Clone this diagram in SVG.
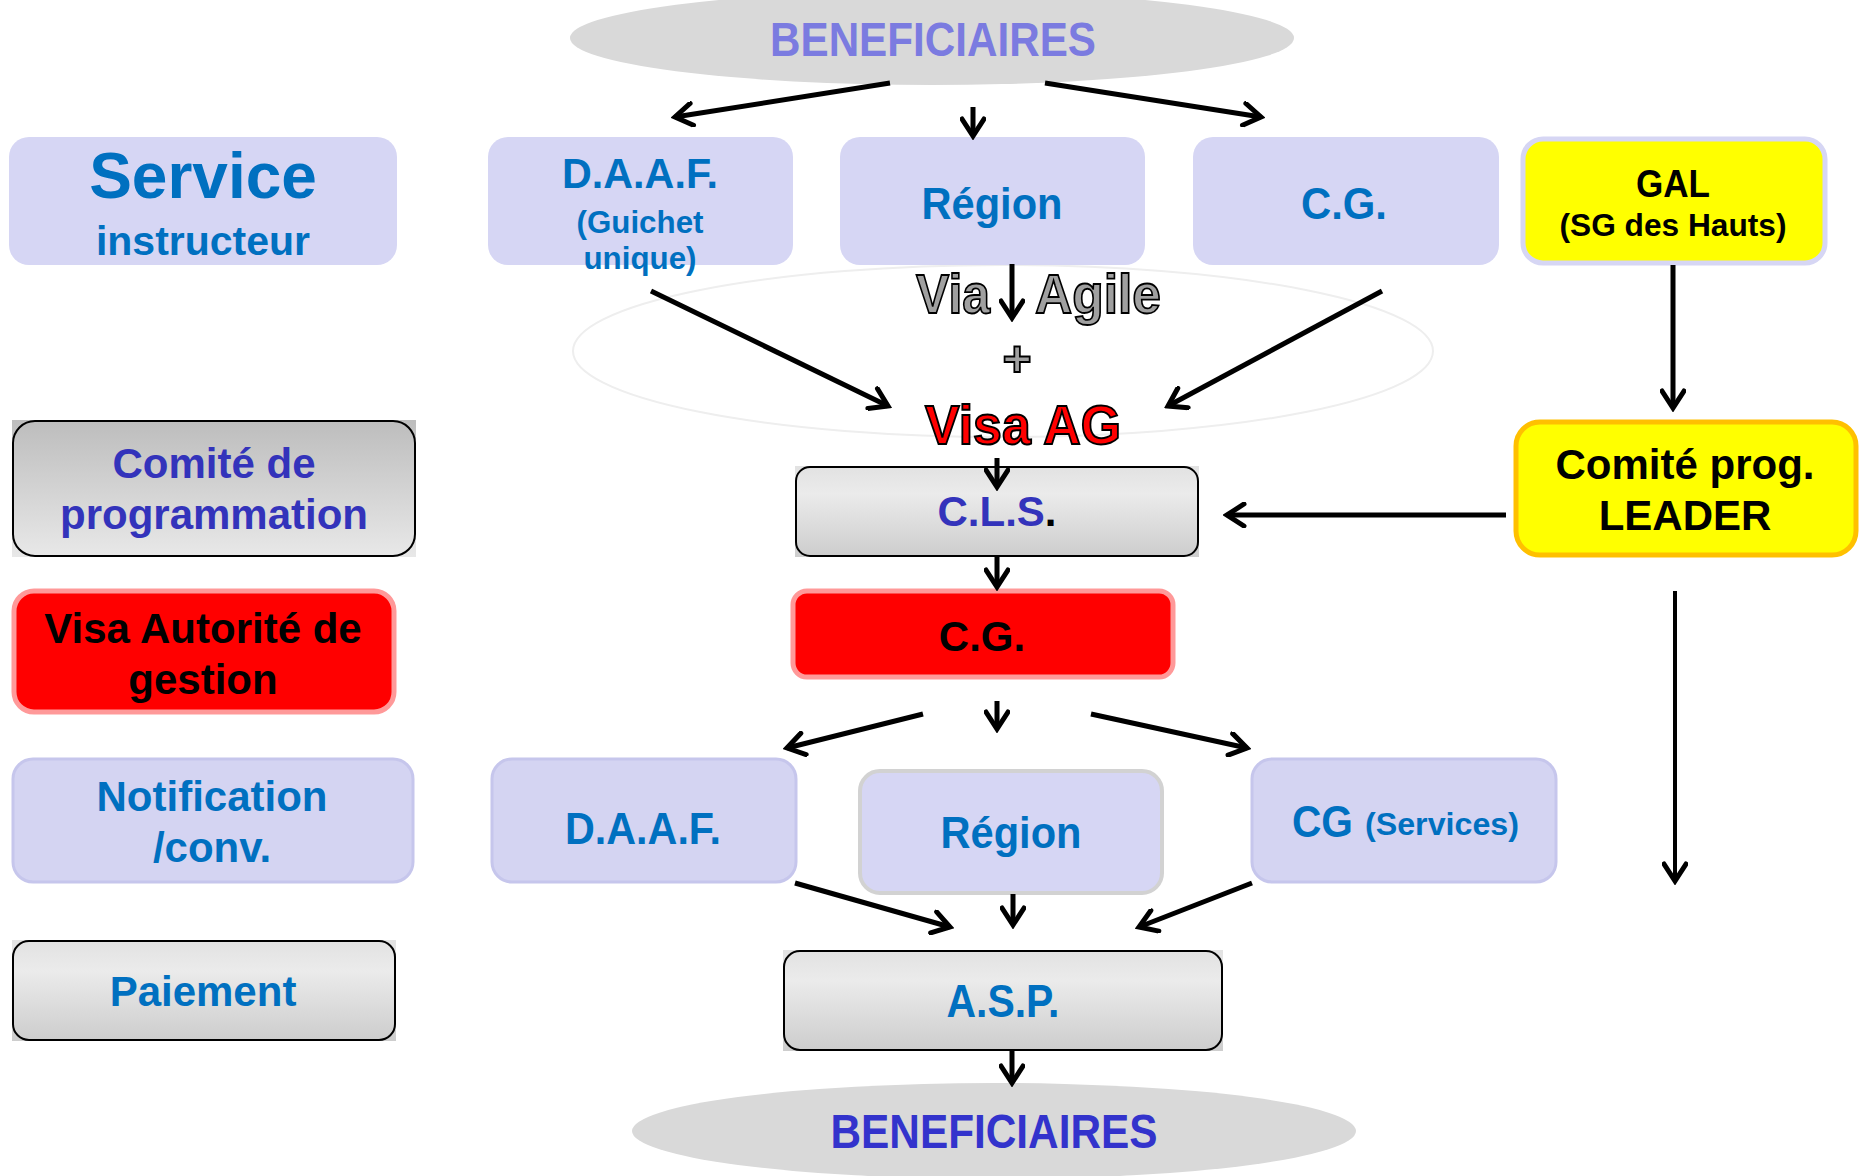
<svg xmlns="http://www.w3.org/2000/svg" width="1865" height="1176" viewBox="0 0 1865 1176">
<defs>
<style>
.t{font-family:"Liberation Sans",Arial,sans-serif;font-weight:bold;text-anchor:middle}
.n{font-family:"Liberation Sans Narrow","Liberation Sans",Arial,sans-serif;font-weight:bold;text-anchor:middle}
.blue{fill:#0070C0}
.purple{fill:#3333BB}
.lav{fill:#D6D6F4}
.lavb{fill:#D4D4F2;stroke:#C6C6EC;stroke-width:3}
.ln{fill:none;stroke:#000;stroke-width:5;marker-end:url(#arr)}
.ln2{fill:none;stroke:#000;stroke-width:4;marker-end:url(#arr)}
.gb{stroke:#000;stroke-width:2}
</style>
<marker id="arr" viewBox="0 0 26 26" refX="22" refY="13" markerWidth="26" markerHeight="26" orient="auto" markerUnits="userSpaceOnUse">
<path d="M5,2 L22,13 L5,24" fill="none" stroke="#000" stroke-width="5" stroke-linecap="round" stroke-linejoin="miter"/>
</marker>
<linearGradient id="gA" x1="0" y1="0" x2="0" y2="1"><stop offset="0" stop-color="#BDBDBD"/><stop offset="1" stop-color="#E8E8E8"/></linearGradient>
<linearGradient id="gB" x1="0" y1="0" x2="0" y2="1"><stop offset="0" stop-color="#E2E2E2"/><stop offset="0.3" stop-color="#EBEBEB"/><stop offset="1" stop-color="#CDCDCD"/></linearGradient>
</defs>
<rect width="1865" height="1176" fill="#fff"/>

<!-- faint ellipse -->
<ellipse cx="1003" cy="351" rx="430" ry="86" fill="none" stroke="#EEEEEE" stroke-width="2"/>

<g id="benef-top">
<ellipse cx="932" cy="38" rx="362" ry="47" fill="#D9D9D9"/>
<text class="n" x="933" y="56" font-size="48" textLength="326" lengthAdjust="spacingAndGlyphs" fill="#7B7BE0">BENEFICIAIRES</text>
</g>

<g id="service-instructeur">
<rect x="9" y="137" width="388" height="128" rx="20" class="lav"/>
<text class="t blue" x="203" y="198" font-size="64">Service</text>
<text class="t blue" x="203" y="255" font-size="41">instructeur</text>
</g>

<g id="daaf1">
<rect x="488" y="137" width="305" height="128" rx="20" class="lav"/>
<text class="n blue" x="640" y="188" font-size="43" textLength="156" lengthAdjust="spacingAndGlyphs">D.A.A.F.</text>
<text class="n blue" x="640" y="233" font-size="31" textLength="127" lengthAdjust="spacingAndGlyphs">(Guichet</text>
<text class="n blue" x="640" y="269" font-size="31" textLength="113" lengthAdjust="spacingAndGlyphs">unique)</text>
</g>

<g id="region1">
<rect x="840" y="137" width="305" height="128" rx="20" class="lav"/>
<text class="n blue" x="992" y="219" font-size="44" textLength="141" lengthAdjust="spacingAndGlyphs">Région</text>
</g>

<g id="cg1">
<rect x="1193" y="137" width="306" height="128" rx="20" class="lav"/>
<text class="n blue" x="1344" y="219" font-size="44" textLength="86" lengthAdjust="spacingAndGlyphs">C.G.</text>
</g>

<g id="gal">
<rect x="1523" y="139" width="302" height="124" rx="20" fill="#FFFF00" stroke="#D6D6F4" stroke-width="5"/>
<text class="n" x="1673" y="197" font-size="38" textLength="74" lengthAdjust="spacingAndGlyphs" fill="#000">GAL</text>
<text class="n" x="1673" y="236" font-size="32" textLength="227" lengthAdjust="spacingAndGlyphs" fill="#000">(SG des Hauts)</text>
</g>

<g id="via-agile">
<text class="n" x="953" y="313" font-size="56" textLength="74" lengthAdjust="spacingAndGlyphs" fill="#A0A0A0" stroke="#000" stroke-width="1.8">Via</text>
<text class="n" x="1098" y="313" font-size="56" textLength="126" lengthAdjust="spacingAndGlyphs" fill="#A0A0A0" stroke="#000" stroke-width="1.8">Agile</text>
<text class="t" x="1017" y="376" font-size="50" fill="#A0A0A0" stroke="#000" stroke-width="1.8">+</text>
<text class="n" x="1023" y="444" font-size="56" textLength="196" lengthAdjust="spacingAndGlyphs" fill="#FF0000" stroke="#000" stroke-width="2">Visa AG</text>
</g>

<g id="comite-programmation">
<rect x="12" y="420" width="404" height="137" fill="url(#gA)"/>
<rect x="13" y="421" width="402" height="135" rx="22" fill="url(#gA)" class="gb"/>
<text class="t purple" x="214" y="478" font-size="42">Comité de</text>
<text class="t purple" x="214" y="529" font-size="42">programmation</text>
</g>

<g id="cls">
<rect x="795" y="466" width="404" height="91" fill="url(#gB)"/>
<rect x="796" y="467" width="402" height="89" rx="14" fill="url(#gB)" class="gb"/>
<text class="t" x="997" y="526" font-size="42"><tspan class="purple">C.L.S</tspan><tspan fill="#000">.</tspan></text>
</g>

<g id="comite-leader">
<rect x="1516" y="422" width="340" height="133" rx="24" fill="#FFFF00" stroke="#FFC000" stroke-width="5"/>
<text class="t" x="1685" y="479" font-size="42" fill="#000">Comité prog.</text>
<text class="t" x="1685" y="530" font-size="42" fill="#000">LEADER</text>
</g>

<g id="visa-autorite">
<rect x="14" y="591" width="380" height="121" rx="20" fill="#FF0000" stroke="#FF9999" stroke-width="5"/>
<text class="t" x="203" y="643" font-size="42" fill="#000">Visa Autorité de</text>
<text class="t" x="203" y="694" font-size="42" fill="#000">gestion</text>
</g>

<g id="cg-red">
<rect x="793" y="591" width="380" height="86" rx="14" fill="#FF0000" stroke="#FF9999" stroke-width="5"/>
<text class="t" x="982" y="651" font-size="42" fill="#000">C.G.</text>
</g>

<g id="notification">
<rect x="13" y="759" width="400" height="123" rx="20" class="lavb"/>
<text class="t blue" x="212" y="811" font-size="42">Notification</text>
<text class="t blue" x="212" y="862" font-size="42">/conv.</text>
</g>

<g id="daaf2">
<rect x="492" y="759" width="304" height="123" rx="20" class="lavb"/>
<text class="n blue" x="643" y="844" font-size="44" textLength="156" lengthAdjust="spacingAndGlyphs">D.A.A.F.</text>
</g>

<g id="region2">
<rect x="860" y="771" width="302" height="122" rx="20" fill="#D6D6F4" stroke="#D2D2D2" stroke-width="4"/>
<text class="n blue" x="1011" y="848" font-size="44" textLength="141" lengthAdjust="spacingAndGlyphs">Région</text>
</g>

<g id="cg-services">
<rect x="1252" y="759" width="304" height="123" rx="20" class="lavb"/>
<text class="n blue" x="1292" y="837" font-size="44" textLength="61" lengthAdjust="spacingAndGlyphs" style="text-anchor:start">CG</text>
<text class="n blue" x="1365" y="835" font-size="31" textLength="154" lengthAdjust="spacingAndGlyphs" style="text-anchor:start">(Services)</text>
</g>

<g id="paiement">
<rect x="12" y="940" width="384" height="101" fill="url(#gB)"/>
<rect x="13" y="941" width="382" height="99" rx="16" fill="url(#gB)" class="gb"/>
<text class="t blue" x="203" y="1006" font-size="42">Paiement</text>
</g>

<g id="asp">
<rect x="783" y="950" width="440" height="101" fill="url(#gB)"/>
<rect x="784" y="951" width="438" height="99" rx="16" fill="url(#gB)" class="gb"/>
<text class="n blue" x="1003" y="1017" font-size="46" textLength="113" lengthAdjust="spacingAndGlyphs">A.S.P.</text>
</g>

<g id="benef-bottom">
<ellipse cx="994" cy="1131" rx="362" ry="48" fill="#D9D9D9"/>
<text class="n" x="994" y="1148" font-size="48" textLength="327" lengthAdjust="spacingAndGlyphs" fill="#3333CC">BENEFICIAIRES</text>
</g>

<g id="connectors">
<line class="ln" x1="890" y1="83" x2="675" y2="117"/>
<line class="ln" x1="973" y1="107" x2="973" y2="136"/>
<line class="ln" x1="1045" y1="83" x2="1261" y2="117"/>
<line class="ln" x1="651" y1="291" x2="888" y2="406"/>
<line class="ln" x1="1012" y1="264" x2="1012" y2="318"/>
<line class="ln" x1="1382" y1="291" x2="1168" y2="406"/>
<line class="ln" x1="1673" y1="265" x2="1673" y2="408"/>
<line class="ln" x1="997" y1="458" x2="997" y2="487"/>
<line class="ln" x1="1506" y1="515" x2="1227" y2="515"/>
<line class="ln" x1="997" y1="557" x2="997" y2="587"/>
<line class="ln" x1="923" y1="714" x2="787" y2="748"/>
<line class="ln" x1="997" y1="701" x2="997" y2="729"/>
<line class="ln" x1="1091" y1="714" x2="1247" y2="748"/>
<line class="ln" x1="795" y1="883" x2="950" y2="927"/>
<line class="ln" x1="1013" y1="894" x2="1013" y2="925"/>
<line class="ln" x1="1252" y1="883" x2="1139" y2="927"/>
<line class="ln2" x1="1675" y1="591" x2="1675" y2="881"/>
<line class="ln" x1="1012" y1="1051" x2="1012" y2="1083"/>
</g>
</svg>
